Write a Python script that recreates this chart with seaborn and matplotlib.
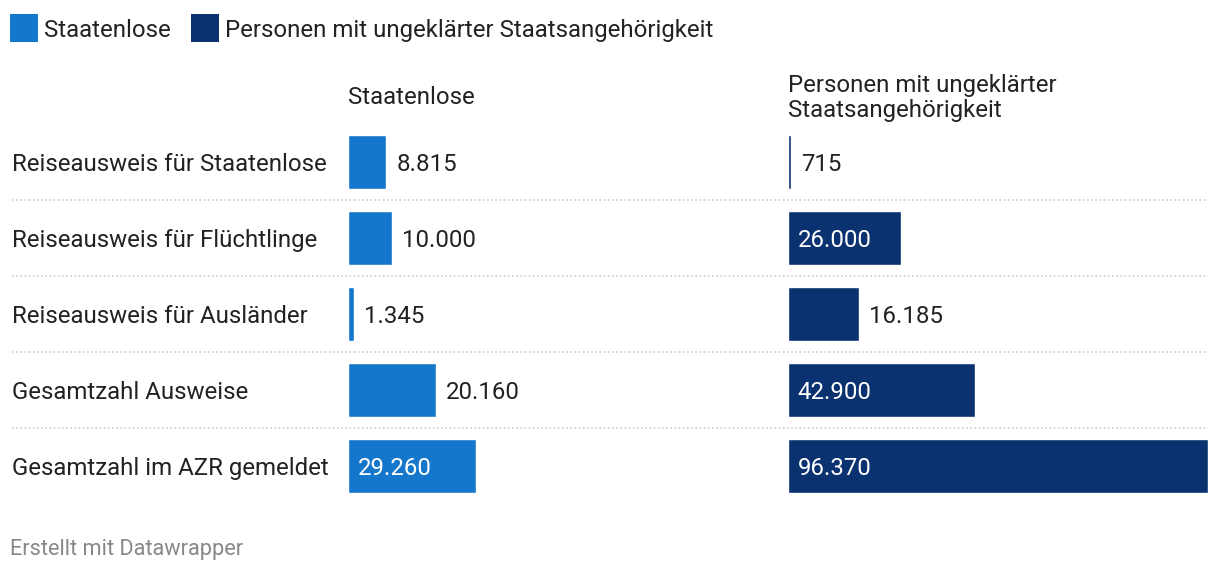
import pandas as pd
import matplotlib
matplotlib.use("Agg")
import matplotlib.pyplot as plt
from matplotlib.patches import Rectangle
import seaborn as sns

# Data
categories = [
    "Reiseausweis für Staatenlose",
    "Reiseausweis für Flüchtlinge",
    "Reiseausweis für Ausländer",
    "Gesamtzahl Ausweise",
    "Gesamtzahl im AZR gemeldet",
]
staatenlose = [8815, 10000, 1345, 20160, 29260]
ungeklaert = [715, 26000, 16185, 42900, 96370]
series_names = ["Staatenlose", "Personen mit ungeklärter Staatsangehörigkeit"]
panel_titles = ["Staatenlose", "Personen mit ungeklärter\nStaatsangehörigkeit"]
footer = "Erstellt mit Datawrapper"

colors = ["#1577cc", "#0b3270"]
FS = 17.3
VA = "center_baseline"

sns.set_theme(style="white")
plt.rcParams["font.family"] = ["Roboto", "DejaVu Sans"]

W, H = 1220, 570
fig = plt.figure(figsize=(W / 100, H / 100), dpi=100)

def fx(px):
    return px / W

def fy(py):
    return 1 - py / H

top_px, bottom_px = 124, 504
ax_bottom = fy(bottom_px)
ax_height = (bottom_px - top_px) / H

# background axis for row labels and separators
bg = fig.add_axes([0, ax_bottom, 1, ax_height])
bg.set_xlim(0, W)
bg.set_ylim(len(categories) - 0.5, -0.5)
bg.axis("off")
for i in range(len(categories) - 1):
    bg.plot([12, 1208], [i + 0.5, i + 0.5], color="#cccccc", lw=1.2,
            linestyle=(0, (1, 1.5)))
for i, cat in enumerate(categories):
    bg.text(12, i, cat, ha="left", va=VA, fontsize=FS, color="#222222")

xmax = max(max(staatenlose), max(ungeklaert))
panels = [(348, staatenlose), (788, ungeklaert)]
width_px = 420

def fmt(v):
    return f"{v:,}".replace(",", ".")

for k, (x0, vals) in enumerate(panels):
    ax = fig.add_axes([fx(x0), ax_bottom, width_px / W, ax_height])
    df = pd.DataFrame({"cat": categories, "val": vals})
    sns.barplot(data=df, x="val", y="cat", orient="h", color=colors[k],
                width=0.71, saturation=1, ax=ax)
    ax.set_xlim(0, xmax)
    ax.set_ylim(len(categories) - 0.5, -0.5)
    ax.axis("off")
    for i, v in enumerate(vals):
        if v > 22000:
            ax.annotate(fmt(v), (0, i), xytext=(7, 0), textcoords="offset points",
                        ha="left", va=VA, fontsize=FS, color="white")
        else:
            ax.annotate(fmt(v), (v, i), xytext=(7.2, 0), textcoords="offset points",
                        ha="left", va=VA, fontsize=FS, color="#222222")
    fig.text(fx(x0), fy(98), panel_titles[k], ha="left", va="center",
             fontsize=FS, color="#222222", linespacing=1.12)

# legend
leg_x = [10, 191]
for k, name in enumerate(series_names):
    fig.add_artist(Rectangle((fx(leg_x[k]), fy(42)), 28 / W, 28 / H,
                             transform=fig.transFigure, color=colors[k], lw=0))
    fig.text(fx(leg_x[k] + 34), fy(28), name, ha="left", va=VA,
             fontsize=FS, color="#222222")

fig.text(fx(10), fy(547), footer, ha="left", va=VA, fontsize=15.7,
         color="#888888")

fig.savefig("out.png", dpi=100)
